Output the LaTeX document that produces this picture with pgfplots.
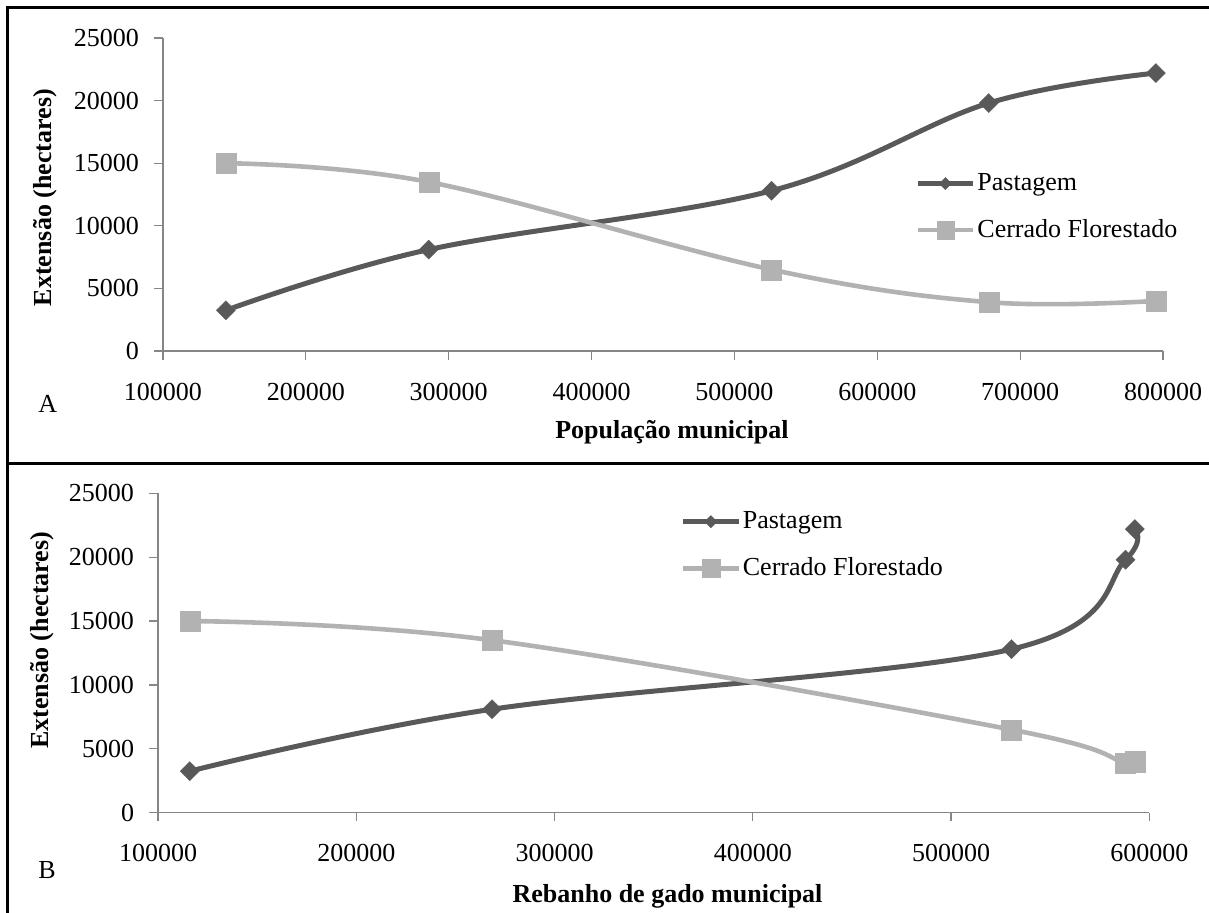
\documentclass[border=0pt]{standalone}
\usepackage{fontspec}
\setmainfont{Liberation Serif}
\usepackage{pgfplots}
\pgfplotsset{compat=1.18}

\definecolor{pastc}{RGB}{89,89,89}
\definecolor{cerrc}{RGB}{178,178,178}
\definecolor{axgray}{RGB}{134,134,134}

\pgfplotsset{
  myaxis/.style={
    scale only axis,
    axis lines*=left,
    axis line style={axgray, line width=0.6pt},
    every tick/.style={axgray, line width=0.6pt},
    tick align=outside,
    major tick length=4.3pt,
    ymin=0, ymax=25000,
    ytick={0,5000,10000,15000,20000,25000},
    /pgf/number format/fixed,
    /pgf/number format/precision=0,
    /pgf/number format/1000 sep={},
    /pgf/number format/assume math mode=true,
    scaled ticks=false,
    tick label style={font=\fontsize{13}{15}\selectfont, inner sep=0pt},
    yticklabel style={anchor=east, xshift=-7.5pt},
    label style={font=\fontsize{13}{15}\selectfont\bfseries},
    legend cell align=left,
    legend style={draw=none, fill=none, font=\fontsize{13}{15}\selectfont,
      anchor=north west, row sep=7pt,
      nodes={inner xsep=1pt, inner ysep=3pt}},
    legend image code/.code={\draw[mark repeat=2,mark phase=2] plot coordinates {(0pt,0pt)(13.75pt,0pt)(27.5pt,0pt)};},
    clip=false,
  },
  pastplot/.style={color=pastc, line width=2.5pt, smooth, tension=0.6,
    mark=square*, mark size=3.4pt, mark options={rotate=45, solid, line width=0.1pt, fill=pastc},
    legend image post style={mark size=2.2pt}},
  cerrplot/.style={color=cerrc, line width=2.3pt, smooth, tension=0.6,
    mark=square*, mark size=5pt, mark options={solid, line width=0.1pt, fill=cerrc},
    legend image post style={mark size=4.4pt}},
}

\begin{document}
\begin{tikzpicture}
\useasboundingbox (0pt,0pt) rectangle (604.5pt,-456.5pt);

% frame lines
\draw[line width=1.5pt, line join=miter] (3.75pt,-456.5pt) -- (3.75pt,-3.75pt) -- (604.5pt,-3.75pt);
\draw[line width=1.5pt] (3.75pt,-231.65pt) -- (604.5pt,-231.65pt);

% Panel A
\begin{axis}[myaxis,
  at={(81.5pt,-175.5pt)}, anchor=south west,
  width=500pt, height=156.5pt,
  xmin=100000, xmax=800000,
  xtick={100000,200000,300000,400000,500000,600000,700000,800000},
  xticklabel style={anchor=north, yshift=-11.75pt},
  xlabel={População municipal},
  ylabel={Extensão (hectares)},
  xlabel style={at={(axis description cs:0.509,-0.278)}, anchor=base},
  ylabel style={at={(axis description cs:-0.118,0.49)}, anchor=center},
  legend style={at={(axis description cs:0.746,0.60)}},
]
\addplot[pastplot] coordinates {(144000,3250) (286000,8100) (526000,12800) (678000,19800) (795000,22200)};
\addlegendentry{Pastagem}
\addplot[cerrplot] coordinates {(144000,15000) (286000,13500) (526000,6500) (678000,3900) (795000,4000)};
\addlegendentry{Cerrado Florestado}
\end{axis}
\node[anchor=base west, inner sep=0pt, font=\fontsize{13}{15}\selectfont] at (19pt,-206.5pt) {A};

% Panel B
\begin{axis}[myaxis,
  at={(79pt,-406.35pt)}, anchor=south west,
  width=495.65pt, height=159.7pt,
  xmin=100000, xmax=600000,
  xtick={100000,200000,300000,400000,500000,600000},
  xticklabel style={anchor=north, yshift=-11.4pt},
  xlabel={Rebanho de gado municipal},
  ylabel={Extensão (hectares)},
  xlabel style={at={(axis description cs:0.514,-0.28)}, anchor=base},
  ylabel style={at={(axis description cs:-0.117,0.54)}, anchor=center},
  legend style={at={(axis description cs:0.521,0.975)}},
]
\addplot[pastplot] coordinates {(116000,3250) (268500,8100) (530500,12800) (588000,19800) (592700,22200)};
\addlegendentry{Pastagem}
\addplot[cerrplot] coordinates {(116000,15000) (268500,13500) (530500,6500) (588000,3900) (592700,4000)};
\addlegendentry{Cerrado Florestado}
\end{axis}
\node[anchor=base west, inner sep=0pt, font=\fontsize{13}{15}\selectfont] at (19pt,-439pt) {B};
\end{tikzpicture}
\end{document}
